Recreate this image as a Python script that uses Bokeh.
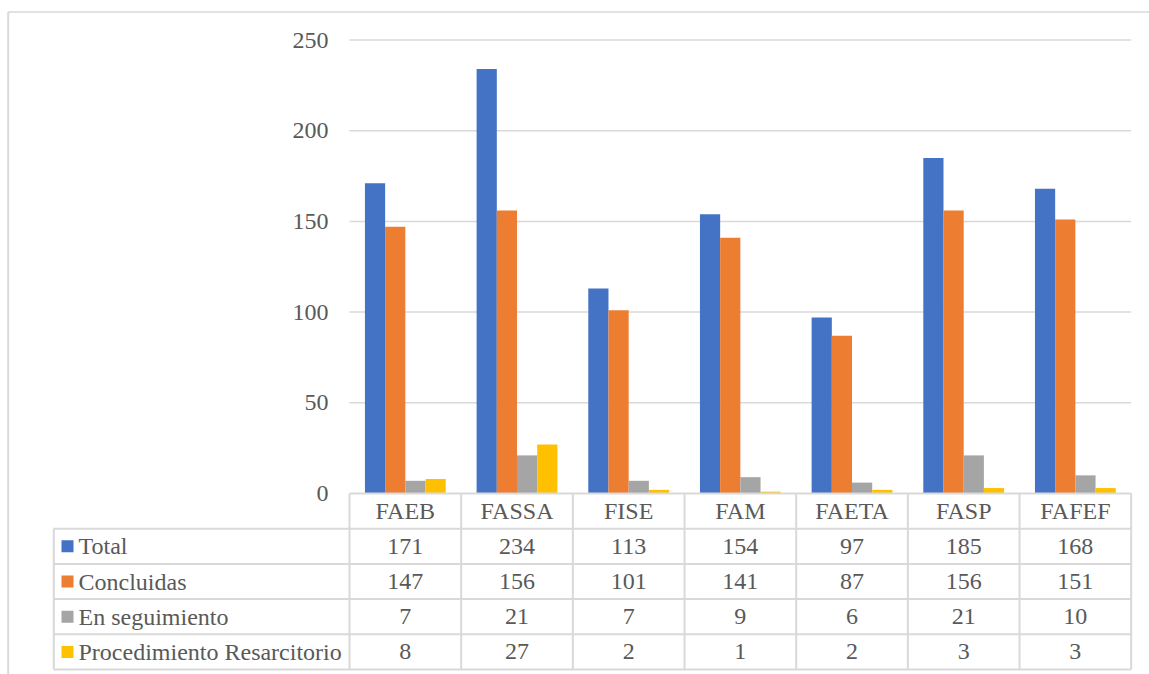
from bokeh.plotting import figure
from bokeh.models import Range1d
from bokeh.core.properties import value
from bokeh.embed import file_html
from bokeh.resources import INLINE

# ---------------- data ----------------
categories = ["FAEB", "FASSA", "FISE", "FAM", "FAETA", "FASP", "FAFEF"]
series_names = ["Total", "Concluidas", "En seguimiento", "Procedimiento Resarcitorio"]
total = [171, 234, 113, 154, 97, 185, 168]
concluidas = [147, 156, 101, 141, 87, 156, 151]
seguimiento = [7, 21, 7, 9, 6, 21, 10]
resarcitorio = [8, 27, 2, 1, 2, 3, 3]
y_ticks = [0, 50, 100, 150, 200, 250]

series_values = [total, concluidas, seguimiento, resarcitorio]
colors = ["#4472C4", "#ED7D31", "#A5A5A5", "#FFC000"]

# ---------------- layout constants (pixels) ----------------
W, H = 1149, 674
PAGE = 0
PLOT_LEFT, PLOT_RIGHT = 349.0, 1130.7
ZERO_Y, TOP_Y = 493.0, 39.5
YMAX = 250
TABLE_LEFT = 53.3
TABLE_BOTTOM = 669.0
N_ROWS = 5

n = len(categories)
px_x = (PLOT_RIGHT - PLOT_LEFT) / n
px_y = (ZERO_Y - TOP_Y) / YMAX
px_row = (TABLE_BOTTOM - ZERO_Y) / N_ROWS

x_start = (PAGE - PLOT_LEFT) / px_x
x_end = n + (PAGE + W - PLOT_RIGHT) / px_x
y_end = (ZERO_Y - PAGE) / px_y
y_start = -(PAGE + H - ZERO_Y) / px_y
r_start = (PAGE + H - ZERO_Y) / px_row
r_end = (PAGE - ZERO_Y) / px_row

FONT = value("Liberation Serif")
TXT = "#595959"
LINE = "#D9D9D9"
FS = value("24px")

p = figure(width=W, height=H, x_range=Range1d(x_start, x_end),
           y_range=Range1d(y_start, y_end), output_backend="svg",
           toolbar_location=None, x_axis_location=None, y_axis_location=None,
           min_border=0, outline_line_color=None)
p.grid.visible = False
p.extra_y_ranges = {"tbl": Range1d(r_start, r_end)}

# gridlines
p.segment(x0=0, x1=n, y0=y_ticks[1:], y1=y_ticks[1:], line_color=LINE, line_width=1.5)

# bars
bw = 20.2 / px_x
for k, (vals, c) in enumerate(zip(series_values, colors)):
    xs = [i + 0.5 + (k - 1.5) * bw for i in range(n)]
    p.vbar(x=xs, top=vals, bottom=0, width=bw, fill_color=c, line_color=None)

# y tick labels
p.text(x=[0] * len(y_ticks), y=y_ticks, text=[str(t) for t in y_ticks],
       x_offset=-21, text_align="right", text_baseline="middle",
       text_font=FONT, text_font_size=FS, text_color=TXT)

# table
lab_left = (TABLE_LEFT - PLOT_LEFT) / px_x
p.segment(x0=0, x1=n, y0=0, y1=0, y_range_name="tbl", line_color=LINE, line_width=2)
rows = list(range(1, N_ROWS + 1))
p.segment(x0=[lab_left] * len(rows), x1=[n] * len(rows), y0=rows, y1=rows,
          y_range_name="tbl", line_color=LINE, line_width=2)
p.segment(x0=lab_left, x1=lab_left, y0=1, y1=N_ROWS, y_range_name="tbl",
          line_color=LINE, line_width=2)
vx = list(range(n + 1))
p.segment(x0=vx, x1=vx, y0=[0] * len(vx), y1=[N_ROWS] * len(vx), y_range_name="tbl",
          line_color=LINE, line_width=2)

p.text(x=[i + 0.5 for i in range(n)], y=[0.5] * n, text=categories, y_range_name="tbl",
       text_align="center", text_baseline="middle", text_font=FONT,
       text_font_size=FS, text_color=TXT)
for k, vals in enumerate(series_values):
    p.text(x=[i + 0.5 for i in range(n)], y=[k + 1.5] * n, text=[str(v) for v in vals],
           y_range_name="tbl", text_align="center", text_baseline="middle",
           text_font=FONT, text_font_size=FS, text_color=TXT)

# legend keys and row labels
key_x = lab_left + 13.7 / px_x
p.scatter(x=[key_x] * len(series_names), y=[k + 1.5 for k in range(len(series_names))],
          marker="square", size=12, fill_color=colors, line_color=None, y_range_name="tbl")
p.text(x=[lab_left] * len(series_names), y=[k + 1.5 for k in range(len(series_names))],
       text=series_names, x_offset=24.7, y_range_name="tbl", text_align="left",
       text_baseline="middle", text_font=FONT, text_font_size=FS, text_color=TXT)

# outer chart border (top and left)
top_border = (ZERO_Y - 11.5) / px_y
left_border = (7.7 - PLOT_LEFT) / px_x
p.segment(x0=left_border, x1=x_end, y0=top_border, y1=top_border, line_color=LINE, line_width=1.5)
p.segment(x0=left_border, x1=left_border, y0=y_start, y1=top_border, line_color=LINE, line_width=2)

open("out.html", "w").write(file_html(p, INLINE))
